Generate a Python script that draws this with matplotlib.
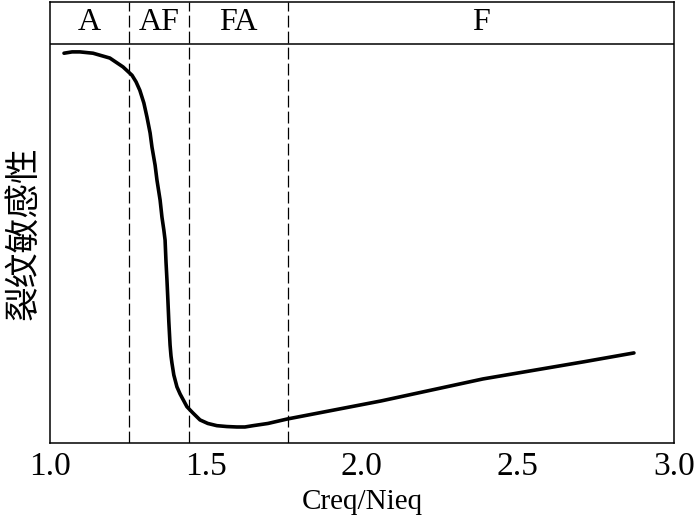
import matplotlib.pyplot as plt

plt.rcParams['font.family'] = ['Liberation Serif', 'DejaVu Serif']

# courbe (x = Creq/Nieq, y = sensibilité relative, 0-100)
ratio = [1.045, 1.071, 1.096, 1.138, 1.192, 1.234, 1.263, 1.276, 1.288, 1.301,
         1.311, 1.321, 1.327, 1.337, 1.343, 1.353, 1.359, 1.365, 1.369, 1.372,
         1.375, 1.378, 1.381, 1.385, 1.388, 1.391, 1.397, 1.407, 1.417, 1.439,
         1.458, 1.481, 1.506, 1.535, 1.567, 1.599, 1.625, 1.651, 1.699, 1.760,
         2.061, 2.388, 2.712, 2.872]
sensibilite = [88.4, 88.7, 88.7, 88.4, 87.3, 85.3, 83.4, 81.9, 80.0, 77.1,
               73.9, 70.3, 67.1, 63.0, 59.6, 55.1, 51.2, 48.3, 46.0, 41.0,
               37.0, 32.4, 27.5, 22.2, 19.7, 18.1, 15.4, 12.7, 11.1, 8.2,
               6.8, 5.2, 4.4, 3.9, 3.7, 3.6, 3.6, 3.9, 4.4, 5.4,
               9.5, 14.5, 18.4, 20.4]

# limites des zones de solidification
limites = [1.253, 1.446, 1.763]
zones = ["A", "AF", "FA", "F"]
xticks = [1.0, 1.5, 2.0, 2.5, 3.0]

fig = plt.figure(figsize=(6.94, 5.21), dpi=100, facecolor='w')
ax = fig.add_axes([0.072, 0.150, 0.899, 0.846])

ax.plot(ratio, sensibilite, color='black', lw=2.6, solid_capstyle='round',
        solid_joinstyle='round')

for x in limites:
    ax.axvline(x, color='black', lw=0.9, dashes=(9.5, 3.3))

# bandeau des zones en haut
y_band = 90.5
ax.axhline(y_band, color='black', lw=1.1)
bords = [1.0] + limites + [3.0]
for i, nom in enumerate(zones):
    ax.text((bords[i] + bords[i + 1]) / 2, 95.3, nom, ha='center', va='center',
            fontsize=23)

ax.set_xlim(1.0, 3.0)
ax.set_ylim(0, 100)
ax.set_xticks(xticks)
ax.set_xticklabels([f"{v:.1f}" for v in xticks], fontsize=24)
ax.set_yticks([])
ax.tick_params(axis='x', length=0, pad=6)
for s in ax.spines.values():
    s.set_linewidth(1.1)

ax.set_xlabel("Creq/Nieq", fontsize=21, labelpad=5)
ax.set_ylabel("裂纹敏感性", fontsize=25,
              family=['Noto Sans CJK SC', 'DejaVu Sans'])
ax.yaxis.set_label_coords(-0.014, 0.475)

plt.savefig('out.png', dpi=100)
